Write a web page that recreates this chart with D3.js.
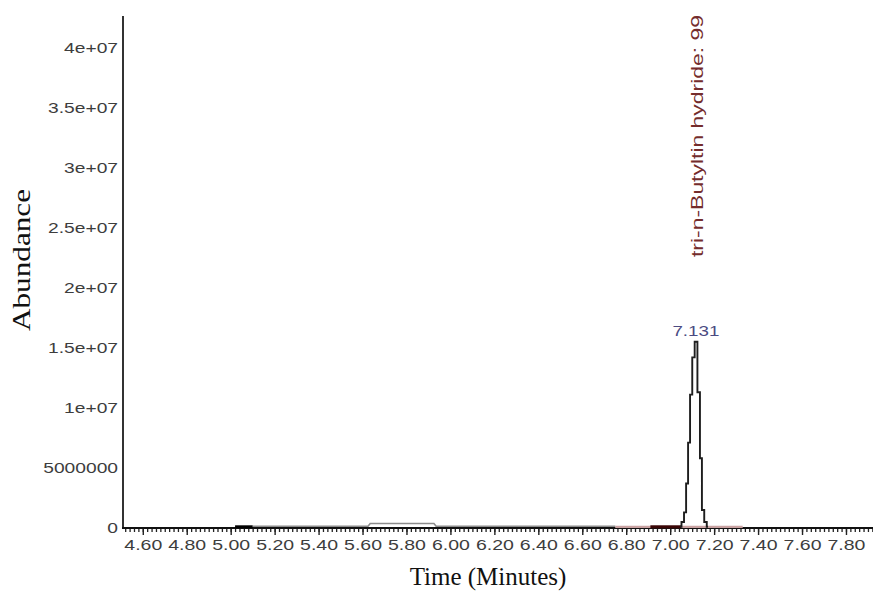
<!DOCTYPE html>
<html>
<head>
<meta charset="utf-8">
<script src="https://cdn.jsdelivr.net/npm/d3@7"></script>
<style>
  body { margin: 0; background: #fff; }
</style>
</head>
<body>
<div id="chart"></div>
<script>
// Axis ticks
const xTickValues = [4.6, 4.8, 5.0, 5.2, 5.4, 5.6, 5.8, 6.0, 6.2, 6.4, 6.6, 6.8, 7.0, 7.2, 7.4, 7.6, 7.8]
const yTickValues = [0, 5e6, 10e6, 15e6, 20e6, 25e6, 30e6, 35e6, 40e6]
const yTickLabels = ['0', '5000000', '1e+07', '1.5e+07', '2e+07', '2.5e+07', '3e+07', '3.5e+07', '4e+07']

// Main peak (minutes, abundance)
const peakTimes = [7.045, 7.058, 7.068, 7.077, 7.086, 7.095, 7.106, 7.117, 7.131, 7.140, 7.149, 7.161, 7.172]
const peakValues = [0.1e6, 0.5e6, 1.3e6, 3.7e6, 7.1e6, 11.1e6, 14.2e6, 15.5e6, 11.3e6, 5.8e6, 1.5e6, 0.5e6, 0.1e6]

// Baseline traces
const blackTimes = [5.02, 5.10]
const blackValues = [0.1e6, 0.1e6]
const grayTimes = [5.10, 5.625, 5.635, 5.925, 5.935, 6.75]
const grayValues = [0.15e6, 0.15e6, 0.38e6, 0.38e6, 0.15e6, 0.15e6]
const pinkTimes = [6.75, 7.33]
const pinkValues = [0.1e6, 0.1e6]
const darkTimes = [6.91, 7.05]
const darkValues = [0.1e6, 0.1e6]

const peakLabel = '7.131'
const compoundLabel = 'tri-n-Butyltin hydride: 99'

// Canvas
const width = 873,
  height = 592

const svg = d3.select('#chart')
  .append('svg')
  .attr('width', width)
  .attr('height', height)
  .style('background', '#fff')

const x = d3.scaleLinear()
  .domain([4.51, 7.923])
  .range([123, 873])

const y = d3.scaleLinear()
  .domain([0, 42.6e6])
  .range([528, 16])

const sansFont = '"Liberation Sans", Arial, sans-serif'
const serifFont = '"Liberation Serif", "Times New Roman", serif'

// stretch text horizontally, the reference glyphs are wide
let widen = (sel, k) => {
  sel.each(function () {
    const len = this.getComputedTextLength()
    d3.select(this)
      .attr('textLength', len * k)
      .attr('lengthAdjust', 'spacingAndGlyphs')
  })
}

// minor ticks on x
const minorTicks = d3.range(4.52, 7.92, 0.02)
svg.append('g')
  .attr('transform', 'translate(0,528)')
  .call(d3.axisBottom(x).tickValues(minorTicks).tickSize(4).tickFormat(''))
  .call(g => g.select('.domain').remove())
  .call(g => g.selectAll('line').attr('stroke', '#222').attr('stroke-width', 1.3))

// major ticks on x
const xAxis = svg.append('g')
  .attr('transform', 'translate(0,528)')
  .call(d3.axisBottom(x).tickValues(xTickValues).tickSize(7).tickFormat(d3.format('.2f')))
xAxis.select('.domain').remove()
xAxis.selectAll('line').attr('stroke', '#222').attr('stroke-width', 1.4)
xAxis.selectAll('text')
  .attr('y', 11)
  .attr('dy', '0.71em')
  .attr('font-family', sansFont)
  .attr('font-size', 15)
  .attr('fill', '#3d3d3d')
  .call(widen, 1.3)

// y axis
const yAxis = svg.append('g')
  .attr('transform', 'translate(123,0)')
  .call(d3.axisLeft(y).tickValues(yTickValues).tickSize(0).tickPadding(5)
    .tickFormat((d, i) => yTickLabels[i]))
yAxis.select('.domain').remove()
yAxis.selectAll('text')
  .attr('font-family', sansFont)
  .attr('font-size', 15)
  .attr('fill', '#3d3d3d')
  .call(widen, 1.28)

svg.append('line')
  .attr('x1', 123).attr('x2', 123)
  .attr('y1', y(42.6e6)).attr('y2', y(0) + 1)
  .attr('stroke', '#333')
  .attr('stroke-width', 2)

svg.append('line')
  .attr('x1', 122).attr('x2', 873)
  .attr('y1', y(0)).attr('y2', y(0))
  .attr('stroke', '#111')
  .attr('stroke-width', 2)

// traces
let trace = (times, values, color, w, curve) => {
  const pts = times.map((t, i) => [t, values[i]])
  svg.append('path')
    .datum(pts)
    .attr('fill', 'none')
    .attr('stroke', color)
    .attr('stroke-width', w)
    .attr('d', d3.line().x(d => x(d[0])).y(d => y(d[1])).curve(curve || d3.curveLinear))
}

trace(grayTimes, grayValues, '#8c8c8c', 1.6)
trace(blackTimes, blackValues, '#000', 3)
trace(pinkTimes, pinkValues, '#c9a2a2', 2.2)
trace(darkTimes, darkValues, '#3a0606', 3)
trace(peakTimes, peakValues, '#1e1e1e', 1.9, d3.curveStep)

// peak label
svg.append('text')
  .attr('x', x(7.117))
  .attr('y', y(15.5e6) - 6)
  .attr('text-anchor', 'middle')
  .attr('font-family', sansFont)
  .attr('font-size', 15)
  .attr('fill', '#4b4b82')
  .text(peakLabel)
  .call(widen, 1.25)

// compound label
svg.append('text')
  .attr('transform', 'translate(703,257) rotate(-90)')
  .attr('font-family', sansFont)
  .attr('font-size', 17)
  .attr('fill', '#742c2c')
  .attr('textLength', 242)
  .attr('lengthAdjust', 'spacingAndGlyphs')
  .text(compoundLabel)

// axis titles
svg.append('text')
  .attr('transform', 'translate(30,260) rotate(-90)')
  .attr('text-anchor', 'middle')
  .attr('font-family', serifFont)
  .attr('font-size', 26)
  .attr('fill', '#111')
  .attr('textLength', 142)
  .attr('lengthAdjust', 'spacingAndGlyphs')
  .text('Abundance')

svg.append('text')
  .attr('x', 488)
  .attr('y', 585)
  .attr('text-anchor', 'middle')
  .attr('font-family', serifFont)
  .attr('font-size', 25)
  .attr('fill', '#111')
  .text('Time (Minutes)')
</script>
</body>
</html>
